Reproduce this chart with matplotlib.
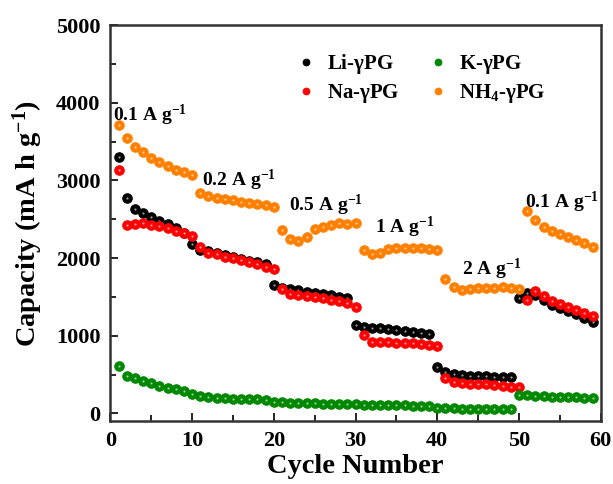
import matplotlib
matplotlib.use('Agg')
import matplotlib.pyplot as plt
import numpy as np

plt.rcParams['font.family'] = ['Liberation Serif', 'DejaVu Serif']
plt.rcParams['font.weight'] = 'bold'
plt.rcParams['mathtext.fontset'] = 'custom'
plt.rcParams['mathtext.rm'] = 'Liberation Serif:bold'
plt.rcParams['mathtext.it'] = 'Liberation Serif:bold'
plt.rcParams['mathtext.bf'] = 'Liberation Serif:bold'

# Li-gPG (cycles 1-59)
li_cycles = np.arange(1, 60)
li_cap = [3307, 2770, 2629, 2577, 2526, 2478, 2436, 2384, 2327,
          2178, 2104, 2085, 2062, 2040, 2015, 1992, 1968, 1945, 1918,
          1653, 1619, 1602, 1589, 1567, 1546, 1533, 1524, 1503, 1482,
          1138, 1116, 1103, 1095, 1086, 1073, 1065, 1052, 1031, 1018,
          593, 528, 506, 494, 485, 481, 481, 472, 472, 464,
          1482, 1546, 1524, 1460, 1396, 1353, 1318, 1276, 1232, 1180]

# Na-gPG (cycles 1-59)
na_cycles = np.arange(1, 60)
na_cap = [3136, 2427, 2436, 2448, 2427, 2418, 2384, 2353, 2320, 2285,
          2139, 2070, 2049, 2018, 1997, 1976, 1954, 1920, 1889, 1856,
          1598, 1533, 1524, 1516, 1503, 1482, 1460, 1447, 1425, 1374,
          1009, 923, 915, 915, 910, 902, 902, 889, 880, 867,
          451, 408, 386, 378, 373, 373, 365, 356, 343, 335,
          1460, 1580, 1512, 1451, 1405, 1366, 1331, 1296, 1260]

# K-gPG (cycles 1-59)
k_cycles = np.arange(1, 60)
k_cap = [613, 485, 451, 416, 387, 352, 330, 309, 291, 245,
         223, 214, 201, 193, 188, 184, 184, 180, 171, 150,
         142, 137, 129, 129, 129, 124, 124, 124, 116, 116,
         110, 107, 107, 104, 104, 102, 100, 97, 94, 72,
         66, 64, 62, 60, 58, 57, 55, 54, 52,
         236, 236, 227, 223, 214, 210, 206, 206, 201, 193]

# NH4-gPG (cycles 1-59)
nh4_cycles = np.arange(1, 60)
nh4_cap = [3715, 3544, 3436, 3363, 3294, 3242, 3187, 3135, 3106, 3071,
           2835, 2800, 2778, 2762, 2749, 2719, 2706, 2697, 2684, 2662,
           2362, 2246, 2220, 2268, 2375, 2405, 2427, 2448, 2436, 2456,
           2104, 2053, 2070, 2117, 2126, 2134, 2134, 2134, 2117, 2104,
           1727, 1624, 1589, 1602, 1611, 1611, 1619, 1624, 1611, 1602,
           2607, 2491, 2405, 2349, 2307, 2268, 2233, 2191, 2147]

series = [
    (li_cycles, li_cap, 'black', r'Li-$\gamma$PG'),
    (na_cycles, na_cap, '#ff0000', r'Na-$\gamma$PG'),
    (k_cycles, k_cap, '#008800', r'K-$\gamma$PG'),
    (nh4_cycles, nh4_cap, '#ff8000', r'NH$_4$-$\gamma$PG'),
]

rates = ['0.1 A g$^{-1}$', '0.2 A g$^{-1}$', '0.5 A g$^{-1}$',
         '1 A g$^{-1}$', '2 A g$^{-1}$', '0.1 A g$^{-1}$']
rate_pos = [(0.3, 3760), (11.2, 2930), (21.8, 2600), (32.4, 2320), (43.0, 1780), (50.7, 2640)]

fig = plt.figure(figsize=(6.13, 4.84), dpi=100)
ax = fig.add_axes([0.18, 0.13, 0.80, 0.818])

handles = []
for x, y, c, lab in series:
    h, = ax.plot(x[:len(y)], y, 'o', color=c, markersize=6.8, markeredgewidth=0.8,
                 markeredgecolor=c, linestyle='none', label=lab)
    ax.plot(x[:len(y)], y, 'o', color='white', markersize=1.6, alpha=0.6,
            markeredgewidth=0, linestyle='none')
    handles.append(h)

for txt, (tx, ty) in zip(rates, rate_pos):
    ax.text(tx, ty, txt, fontsize=14, fontweight='bold', ha='left', va='baseline')

ax.set_xlim(0, 60)
ax.set_ylim(-100, 5000)
ax.set_xticks(np.arange(0, 61, 10))
ax.set_xticks(np.arange(0, 61, 5), minor=True)
ax.set_yticks(np.arange(0, 5001, 1000))
ax.set_yticks(np.arange(0, 5001, 500), minor=True)
ax.tick_params(which='both', direction='in', top=False, right=False, labelsize=16)
ax.tick_params(which='major', length=6, width=1.2, pad=7)
ax.tick_params(which='minor', length=4, width=1.2)
for s in ax.spines.values():
    s.set_linewidth(1.8)
    s.set_color('#333333')

ax.set_xlabel('Cycle Number', fontsize=20.5, fontweight='bold', labelpad=2)
ax.set_ylabel('Capacity (mA h g$^{-1}$)', fontsize=20.5, fontweight='bold', labelpad=8)

ax.legend(handles=handles, ncol=2, frameon=False, loc='upper left',
          bbox_to_anchor=(0.335, 0.98), fontsize=15, markerscale=0.7,
          handletextpad=0.4, columnspacing=1.25, labelspacing=0.3, handlelength=1.2)

plt.savefig('out.png', dpi=100)
